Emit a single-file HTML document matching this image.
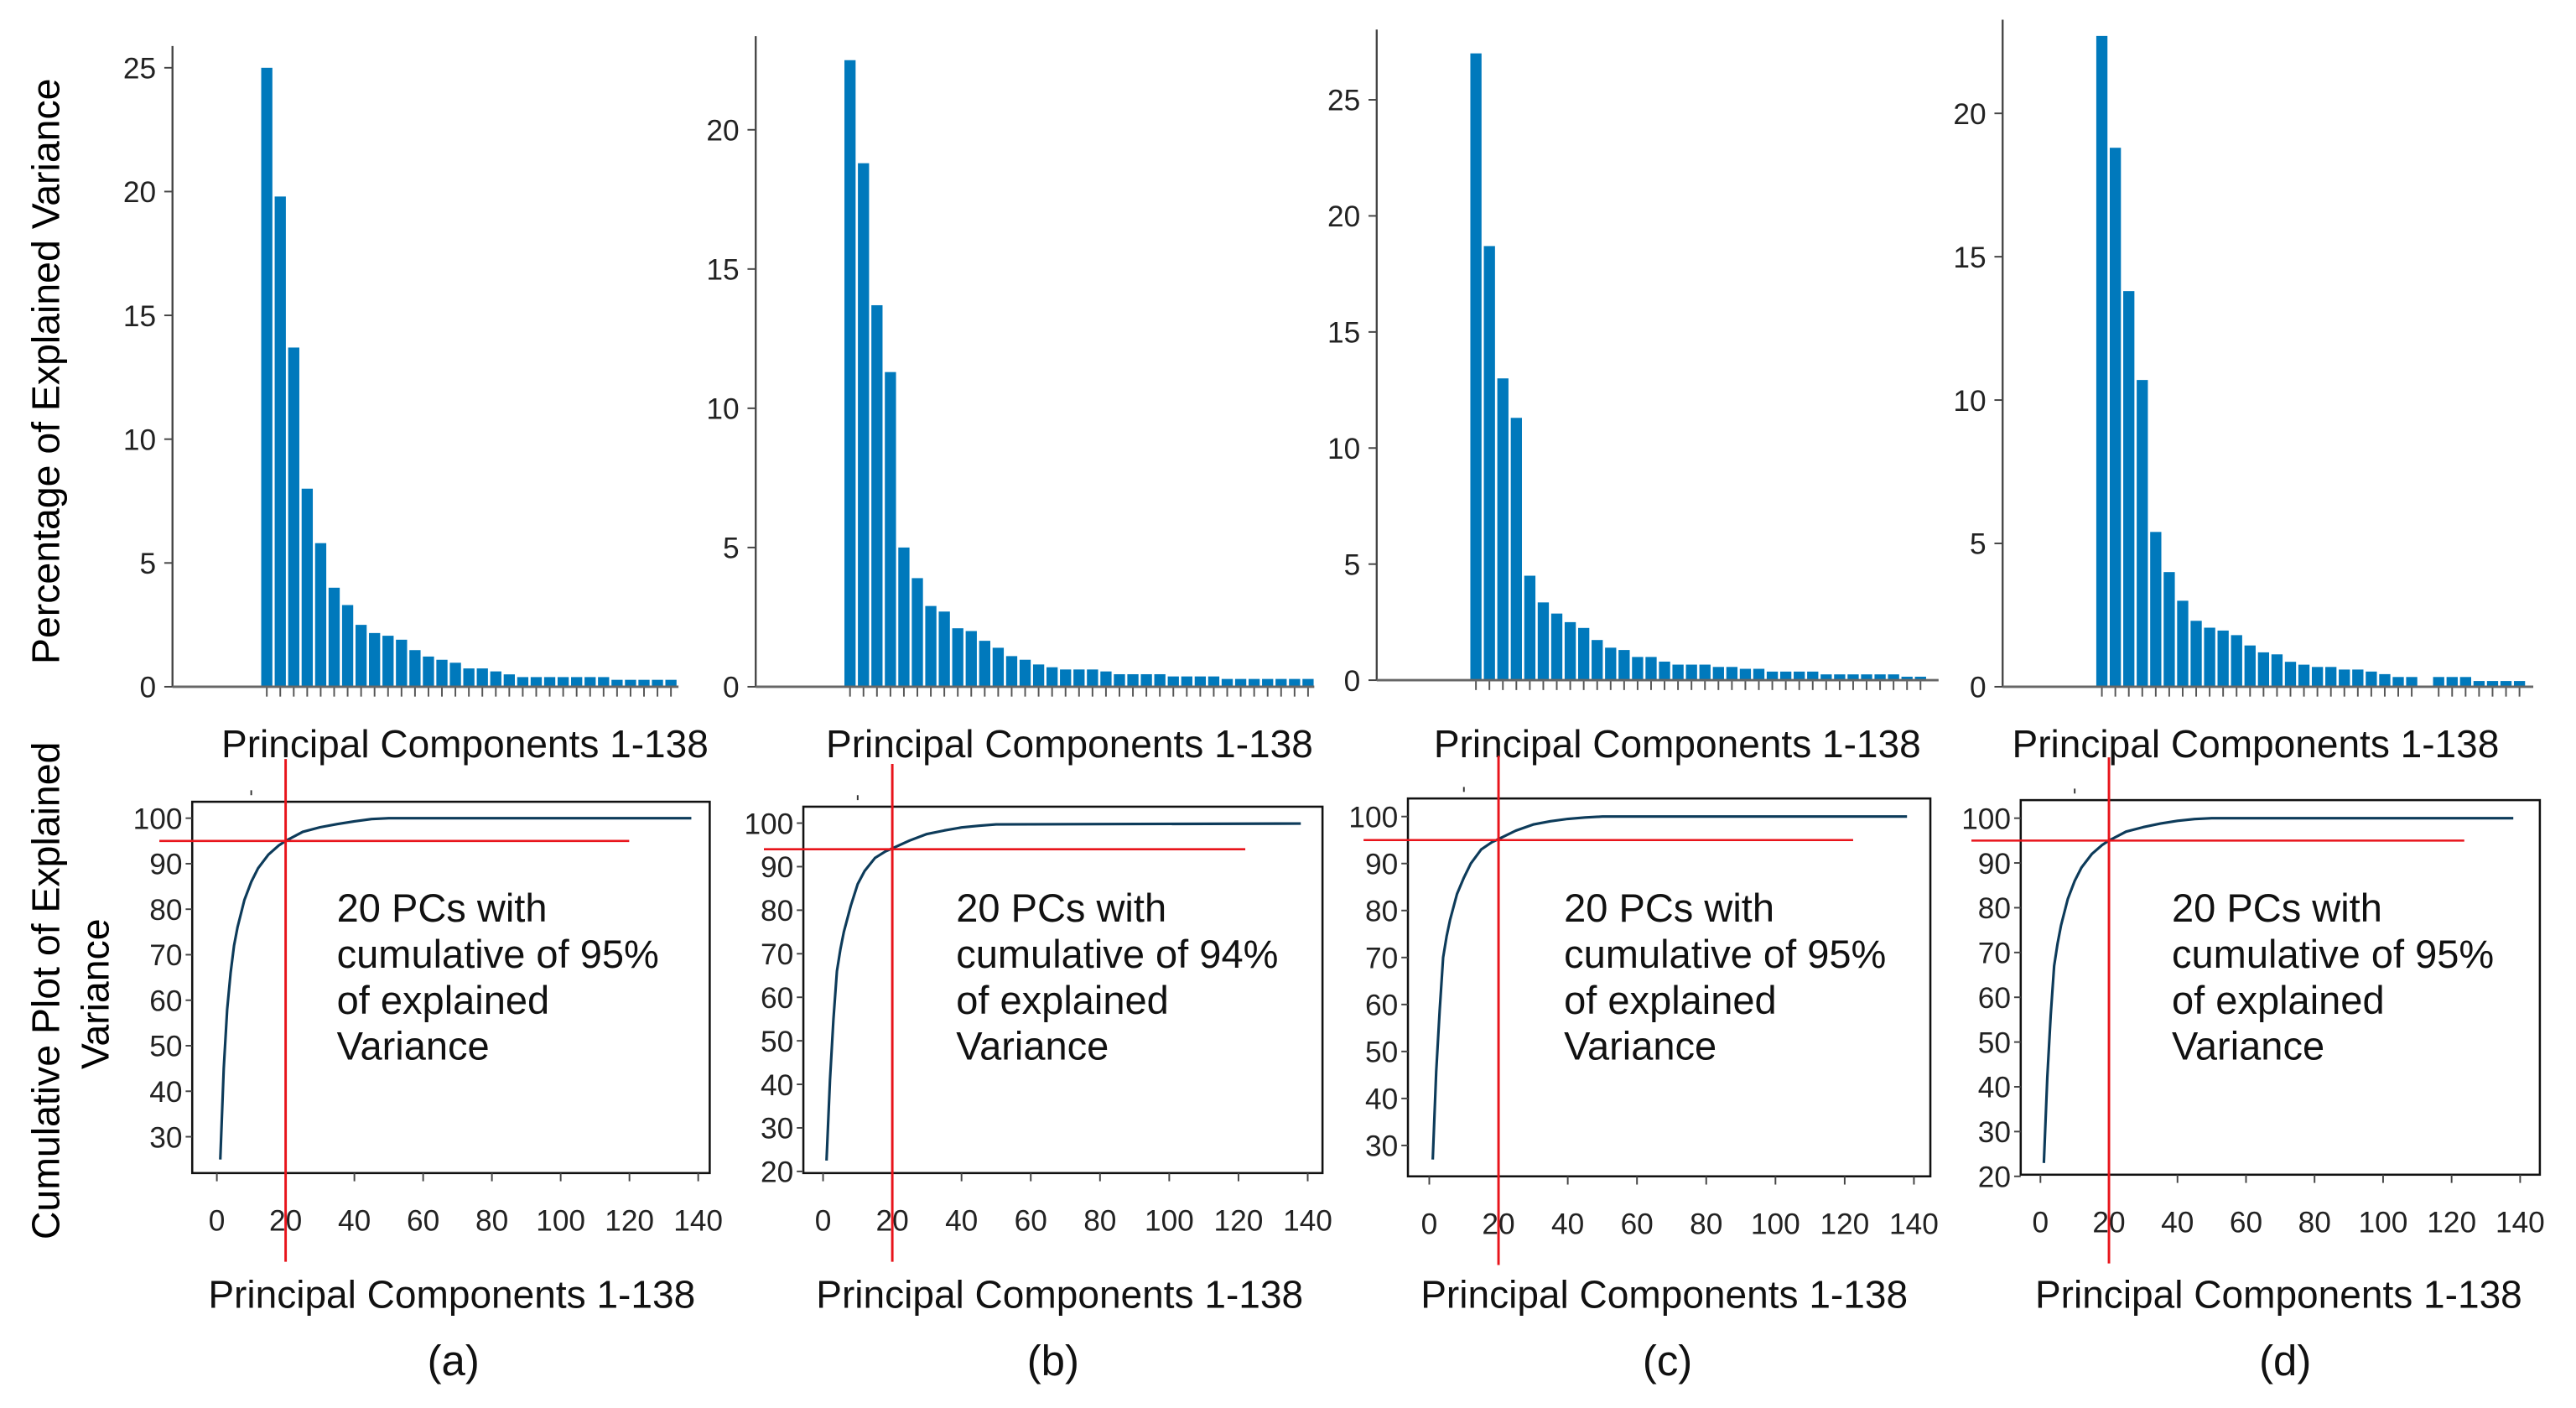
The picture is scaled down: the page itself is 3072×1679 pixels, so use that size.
<!DOCTYPE html>
<html><head><meta charset="utf-8">
<style>
html,body{margin:0;padding:0;background:#fff;}
svg{display:block;font-family:"Liberation Sans",Arial,sans-serif;}
</style></head>
<body>
<svg id="fig" width="3072" height="1679" viewBox="0 0 1568 857" preserveAspectRatio="none" xmlns="http://www.w3.org/2000/svg">
<text x="0" y="0" font-size="23.7" text-anchor="middle" transform="translate(36,226) rotate(-90)">Percentage of Explained Variance</text>
<text x="0" y="0" font-size="23.7" text-anchor="middle" transform="translate(36,603) rotate(-90)">Cumulative Plot of Explained</text>
<text x="0" y="0" font-size="23.7" text-anchor="middle" transform="translate(66,605) rotate(-90)">Variance</text>
</svg>
<script>
// ---- data ----
const barsA = [25,19.8,13.7,8.0,5.8,4.0,3.3,2.5,2.17,2.06,1.9,1.48,1.22,1.09,0.97,0.74,0.74,0.62,0.5,0.39,0.39,0.39,0.39,0.39,0.39,0.39,0.28,0.28,0.28,0.28,0.28];
const barsB = [22.5,18.8,13.7,11.3,5.0,3.9,2.9,2.7,2.1,2.0,1.65,1.4,1.1,0.97,0.8,0.7,0.62,0.62,0.62,0.55,0.45,0.45,0.45,0.45,0.37,0.37,0.37,0.37,0.28,0.28,0.28,0.28,0.28,0.28,0.28];
const barsC = [27,18.7,13,11.3,4.5,3.35,2.87,2.5,2.25,1.73,1.4,1.3,1.0,1.0,0.8,0.67,0.67,0.67,0.57,0.57,0.49,0.49,0.37,0.37,0.37,0.37,0.25,0.25,0.25,0.25,0.25,0.25,0.15,0.15];
const barsD = [22.7,18.8,13.8,10.7,5.4,4.0,3.0,2.3,2.06,1.96,1.8,1.44,1.2,1.13,0.87,0.77,0.69,0.69,0.6,0.6,0.53,0.44,0.34,0.34,0,0.34,0.34,0.34,0.2,0.2,0.2,0.2];
const topTicksA = [0,5,10,15,20,25];
const topTicksB = [0,5,10,15,20];
const topTicksC = [0,5,10,15,20,25];
const topTicksD = [0,5,10,15,20];
const cumX = [1,2,3,4,5,6,8,10,12,15,18,20,25,30,35,40,45,50,138];
const cumA = [25,45,58,66,72,76,82,86,89,92,94,95,97,98,98.7,99.3,99.8,100,100];
const cumB = [22.5,41,55,66,71,75,81,86,89,92,93.5,94.2,96,97.5,98.3,99,99.4,99.7,99.9];
const cumC = [27,45.7,58.7,70,74.5,78,83.5,87,90,93,94.5,95.2,97,98.3,99,99.5,99.8,100,100];
const cumD = [23,42,56,67,72,76,82,86,89,92,94,95,97,98,98.8,99.4,99.8,100,100];
const xTicks = [0,20,40,60,80,100,120,140];
const yTicksA = [30,40,50,60,70,80,90,100];
const yTicksB = [20,30,40,50,60,70,80,90,100];
const yTicksC = [30,40,50,60,70,80,90,100];
const yTicksD = [20,30,40,50,60,70,80,90,100];
const cutPC = [20,20,20,20];
const cutPct = [95,94,95,95];
const notes = ["95%","94%","95%","95%"];
const panelLetters = ["(a)","(b)","(c)","(d)"];

const NS = "http://www.w3.org/2000/svg";
const svg = document.getElementById("fig");
function mk(tag, attrs, parent){
  const e = document.createElementNS(NS, tag);
  for (const k in attrs) e.setAttribute(k, attrs[k]);
  (parent||svg).appendChild(e);
  return e;
}

const topL = [
  {ax:105, top:28, y0:418, unit:15.07, bx:159, xr:413, lx:283, bars:barsA, ticks:topTicksA},
  {ax:460, top:22, y0:418, unit:16.95, bx:514, xr:800, lx:651, bars:barsB, ticks:topTicksB},
  {ax:838, top:18, y0:414, unit:14.13, bx:895, xr:1180, lx:1021, bars:barsC, ticks:topTicksC},
  {ax:1219, top:12, y0:418, unit:17.45, bx:1276, xr:1542, lx:1373, bars:barsD, ticks:topTicksD}
];
topL.forEach((p,pi)=>{
  const g = mk("g",{});
  
  
  const yS = v => p.y0 - v*p.unit;
  const step = 8.2;
  const xS = i => p.bx + i*step;
  p.bars.forEach((v,i)=>{
    if (v<=0) return;
    const r = mk("rect",{x:xS(i), y:yS(v), width:6.8, height:p.y0-yS(v), fill:"#0079bc"}, g);
    
    
    mk("line",{x1:xS(i)+3.4, x2:xS(i)+3.4, y1:p.y0, y2:p.y0+6, stroke:"#555", "stroke-width":1}, g);
  });
  const ya = mk("line",{x1:p.ax, x2:p.ax, y1:p.top, y2:p.y0, stroke:"#444", "stroke-width":1.2}, g);
  
  
  const xa = mk("line",{x1:p.ax, x2:p.xr, y1:p.y0, y2:p.y0, stroke:"#666", "stroke-width":1.5}, g);
  
  
  p.ticks.forEach(t=>{
    mk("line",{x1:p.ax-5, x2:p.ax, y1:yS(t), y2:yS(t), stroke:"#444", "stroke-width":1}, g);
    const tl = mk("text",{x:p.ax-10, y:yS(t)+6.5, "font-size":18, "text-anchor":"end", fill:"#222"}, g);
    
    
    tl.textContent = t;
  });
  const xl = mk("text",{x:p.lx, y:461, "font-size":23.5, "text-anchor":"middle", fill:"#111"}, g);
  
  
  xl.textContent = "Principal Components 1-138";
});

const botL = [
  {bx1:117, bx2:432, by1:488, by2:714, y100:498, k:2.77, x0:132, x140:425, vx:175, hx1:97, hx2:383, tx:205, lx:275, px:276, cum:cumA, yt:yTicksA},
  {bx1:489, bx2:805, by1:491, by2:714, y100:501, k:2.65, x0:501, x140:796, vx:544, hx1:465, hx2:758, tx:582, lx:645, px:641, cum:cumB, yt:yTicksB},
  {bx1:857, bx2:1175, by1:486, by2:716, y100:497, k:2.86, x0:870, x140:1165, vx:912, hx1:830, hx2:1128, tx:952, lx:1013, px:1015, cum:cumC, yt:yTicksC},
  {bx1:1230, bx2:1546, by1:487, by2:715, y100:498, k:2.725, x0:1242, x140:1534, vx:1285, hx1:1200, hx2:1500, tx:1322, lx:1387, px:1391, cum:cumD, yt:yTicksD}
];
botL.forEach((p,pi)=>{
  const g = mk("g",{});
  
  
  const yS = v => p.y100 + (100-v)*p.k;
  const xS = v => p.x0 + v*(p.x140-p.x0)/140;
  const box = mk("rect",{x:p.bx1, y:p.by1, width:p.bx2-p.bx1, height:p.by2-p.by1, fill:"none", stroke:"#111", "stroke-width":1.3}, g);
  
  
  p.yt.forEach(t=>{
    mk("line",{x1:p.bx1-4, x2:p.bx1, y1:yS(t), y2:yS(t), stroke:"#444", "stroke-width":1}, g);
    const tl = mk("text",{x:p.bx1-6, y:yS(t)+6.5, "font-size":18, "text-anchor":"end", fill:"#222"}, g);
    
    
    tl.textContent = t;
  });
  xTicks.forEach(t=>{
    mk("line",{x1:xS(t), x2:xS(t), y1:p.by2, y2:p.by2+5, stroke:"#444", "stroke-width":1}, g);
    const tl = mk("text",{x:xS(t), y:p.by2+35, "font-size":18, "text-anchor":"middle", fill:"#222"}, g);
    
    
    tl.textContent = t;
  });
  mk("line",{x1:xS(10), x2:xS(10), y1:p.by1-7, y2:p.by1-4, stroke:"#333", "stroke-width":1}, g);
  let d = "";
  cumX.forEach((x,i)=>{ d += (i?"L":"M") + xS(x).toFixed(2) + "," + yS(p.cum[i]).toFixed(2); });
  const cl = mk("path",{d:d, fill:"none", stroke:"#0d3b5a", "stroke-width":1.6, "stroke-linejoin":"round"}, g);
  
  
  const vl = mk("line",{x1:xS(cutPC[pi]), x2:xS(cutPC[pi]), y1:p.by1-26, y2:p.by2+54, stroke:"#e8141b", "stroke-width":1.5}, g);
  
  
  const hl = mk("line",{x1:p.hx1, x2:p.hx2, y1:yS(cutPct[pi]), y2:yS(cutPct[pi]), stroke:"#e8141b", "stroke-width":1.3}, g);
  
  
  const lines = ["20 PCs with", "cumulative of " + notes[pi], "of explained", "Variance"];
  lines.forEach((s,i)=>{
    const t = mk("text",{x:p.tx, y:561+i*28, "font-size":24, fill:"#111"}, g);
    
    
    t.textContent = s;
  });
  const xl = mk("text",{x:p.lx, y:796, "font-size":23.5, "text-anchor":"middle", fill:"#111"}, g);
  
  
  xl.textContent = "Principal Components 1-138";
  const pl = mk("text",{x:p.px, y:837, "font-size":26, "text-anchor":"middle", fill:"#111"}, g);
  
  
  pl.textContent = panelLetters[pi];
});
</script>
</body></html>
